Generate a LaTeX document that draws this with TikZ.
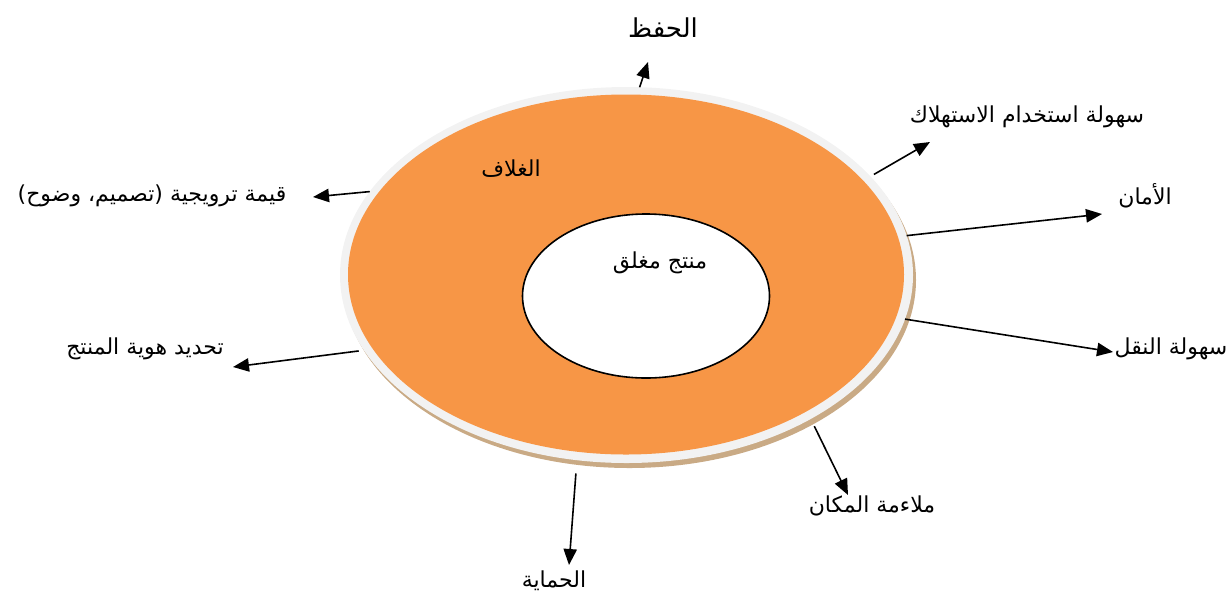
\documentclass[tikz,border=0pt]{standalone}
\usepackage{fontspec}
\newfontfamily\arabicfont[Script=Arabic]{DejaVu Sans}
\TeXXeTstate=1
\usetikzlibrary{shapes.geometric,arrows.meta}
\definecolor{wrap}{HTML}{F79646}
\definecolor{rim}{HTML}{F2F2F2}
\definecolor{rimshadow}{HTML}{C9AA85}
\begin{document}
\begin{tikzpicture}[x=0.75pt,y=-0.75pt,
        lbl/.style={font=\arabicfont\fontsize{16.5}{18}\selectfont,inner sep=1pt},
        ring/.style={ellipse,inner sep=0pt,outer sep=0pt},
        >={Triangle[length=12pt,width=10pt]},
        every path/.style={line width=1.2pt}]
        \useasboundingbox(0,0)rectangle(1231,594);
        \node[ring,fill=rimshadow,minimum width=429.75pt,minimum height=282pt](s)at(629.5,280){};
        \node[ring,fill=rim,minimum width=429.75pt,minimum height=282pt](0)at(626.5,275){};
        \node[ring,fill=wrap,minimum width=417pt,minimum height=270pt](w)at(626,274.5){};
        \node[ring,fill=white,draw=black,minimum width=185.25pt,minimum height=123pt](p)at(646,296){};
        \node[lbl,font=\arabicfont\fontsize{19.5}{21}\selectfont](1)at(663,28){\beginR الحفظ\endR};
        \node[lbl](2)at(1027,117){\beginR سهولة استخدام الاستهلاك\endR};
        \node[lbl](3)at(1145,196){\beginR الأمان\endR};
        \node[lbl](4)at(1171,349){\beginR سهولة النقل\endR};
        \node[lbl](5)at(872,506){\beginR ملاءمة المكان\endR};
        \node[lbl](6)at(554,581){\beginR الحماية\endR};
        \node[lbl](7)at(145,349){\beginR تحديد هوية المنتج\endR};
        \node[lbl](8)at(152,196){\beginR قيمة ترويجية (تصميم، وضوح)\endR};
        \node[lbl](9)at(511,169){\beginR الغلاف\endR};
        \node[lbl](10)at(660,263){\beginR منتج مغلق\endR};
        \coordinate(t1)at(648,62);
        \coordinate(t2)at(930,142);
        \coordinate(t3)at(1102,214);
        \coordinate(t4)at(1113,352);
        \coordinate(t5)at(848,495);
        \coordinate(t6)at(569,565);
        \coordinate(t7)at(233,367);
        \coordinate(t8)at(313,197);
        \draw[->](0.86.6)--(t1);
        \draw[->,shorten <=3pt](0.22.6)--(t2);
        \draw[->](0.8.3)--(t3);
        \draw[->](0.-9.7)--(t4);
        \draw[->,shorten <=6pt](0.-38.1)--(t5);
        \draw[->,shorten <=10pt](0.-105)--(t6);
        \draw[->,shorten <=4pt](0.196)--(t7);
        \draw[->](0.162.8)--(t8);
    \end{tikzpicture}
\end{document}
